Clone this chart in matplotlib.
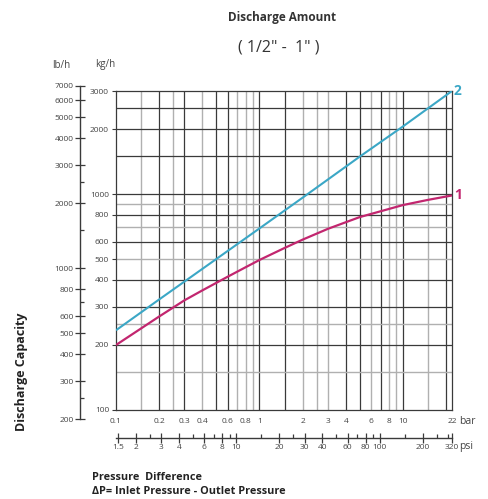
import numpy as np
import matplotlib
matplotlib.use('Agg')
import matplotlib.pyplot as plt
from matplotlib.ticker import FixedLocator, NullFormatter, NullLocator

plt.rcParams['font.family'] = ['Open Sans', 'DejaVu Sans']

# curve data (bar -> kg/h)
p1 = [0.1, 0.2, 0.3, 0.4, 0.6, 0.8, 1, 1.5, 2, 3, 5, 10, 15, 22]
q1 = [200, 271, 322, 358, 414, 458, 495, 563, 615, 690, 782, 889, 940, 985]
p2 = [0.1, 0.2, 0.5, 1, 2, 5, 10, 22]
q2 = [234, 325, 500, 693, 962, 1490, 2055, 3000]

bar_ticks = [0.1, 0.2, 0.3, 0.4, 0.6, 0.8, 1, 2, 3, 4, 6, 8, 10, 22]
bar_labels = ['0.1', '0.2', '0.3', '0.4', '0.6', '0.8', '1', '2', '3', '4', '6', '8', '10', '22']
kg_ticks = [100, 200, 300, 400, 500, 600, 800, 1000, 2000, 3000]
lb_ticks = [200, 300, 400, 500, 600, 800, 1000, 2000, 3000, 4000, 5000, 6000, 7000]
lb_minor = [250, 700, 1500, 2500]
psi_ticks = [1.5, 2, 3, 4, 6, 8, 10, 20, 30, 40, 60, 80, 100, 200, 320]
psi_minor = [2.5, 5, 7, 9, 15, 25, 50, 70, 90, 150, 250, 300]

vgrid_dark = [0.2, 0.3, 0.5, 0.6, 1, 1.5, 4, 5, 7, 10, 20]
vgrid_light = [0.15, 0.25, 0.4, 0.7, 0.8, 0.9, 2, 2.5, 3, 6, 8, 9, 15]
hgrid_dark = [200, 300, 400, 600, 800, 1000, 1500, 2000, 2500]
hgrid_light = [150, 250, 500, 700, 900]

KG2LB = 2.20462
BAR2PSI = 14.5038
cyan = '#3ba7c6'
magenta = '#c2266f'
txt = '#444444'

W, H = 489, 499
fig = plt.figure(figsize=(W / 100, H / 100), dpi=100)
left, bottom = 116 / W, (H - 410) / H
width, height = 336 / W, 319 / H
ax = fig.add_axes([left, bottom, width, height])
ax.set_xscale('log')
ax.set_yscale('log')
ax.set_xlim(0.1, 22)
ax.set_ylim(100, 3000)

for v in vgrid_light:
    ax.axvline(v, color='#b0b0b0', lw=1.0, zorder=1)
for v in vgrid_dark:
    ax.axvline(v, color='#3a3a3a', lw=0.9, zorder=1)
for v in hgrid_light:
    ax.axhline(v, color='#b0b0b0', lw=1.0, zorder=1)
for v in hgrid_dark:
    ax.axhline(v, color='#3a3a3a', lw=0.9, zorder=1)

ax.plot(p1, q1, color=magenta, lw=1.6, zorder=3, solid_capstyle='butt')
ax.plot(p2, q2, color=cyan, lw=1.5, zorder=3, solid_capstyle='butt')
ax.text(p2[-1] * 1.03, q2[-1], '2', color=cyan, fontsize=10, fontweight='bold',
        ha='left', va='center', clip_on=False)
ax.text(p1[-1] * 1.03, q1[-1], '1', color=magenta, fontsize=10, fontweight='bold',
        ha='left', va='center', clip_on=False)

for s in ax.spines.values():
    s.set_color('#3a3a3a')
    s.set_linewidth(0.9)

ax.xaxis.set_major_locator(FixedLocator(bar_ticks))
ax.xaxis.set_minor_locator(NullLocator())
ax.set_xticklabels(bar_labels)
ax.xaxis.set_minor_formatter(NullFormatter())
ax.tick_params(axis='x', length=0, pad=6, labelsize=6, labelcolor=txt)
ax.yaxis.set_major_locator(FixedLocator(kg_ticks))
ax.yaxis.set_minor_locator(NullLocator())
ax.set_yticklabels([str(v) for v in kg_ticks])
ax.tick_params(axis='y', length=3, width=0.8, color='#3a3a3a', pad=2,
               labelsize=6, labelcolor=txt)

# lb/h axis (same log scale, converted from kg/h)
lb_lo, lb_hi = 196, 7150
kg_lo, kg_hi = ax.get_ylim()
dec = np.log10(kg_hi / kg_lo)
b_lb = bottom + height * np.log10(lb_lo / KG2LB / kg_lo) / dec
t_lb = bottom + height * np.log10(lb_hi / KG2LB / kg_lo) / dec
ax_lb = fig.add_axes([80 / W, b_lb, 0.001, t_lb - b_lb])
ax_lb.set_yscale('log')
ax_lb.set_ylim(lb_lo, lb_hi)
ax_lb.patch.set_visible(False)
for k in ['top', 'right', 'bottom']:
    ax_lb.spines[k].set_visible(False)
ax_lb.spines['left'].set_color('#3a3a3a')
ax_lb.spines['left'].set_linewidth(1.0)
ax_lb.spines['left'].set_bounds(200, 7000)
ax_lb.set_xticks([])
ax_lb.yaxis.set_major_locator(FixedLocator(lb_ticks))
ax_lb.yaxis.set_minor_locator(FixedLocator(lb_minor))
ax_lb.set_yticklabels([str(v) for v in lb_ticks])
ax_lb.yaxis.set_minor_formatter(NullFormatter())
ax_lb.tick_params(axis='y', which='major', direction='inout', length=7, width=0.9,
                  color='#3a3a3a', labelsize=6, labelcolor=txt, pad=1)
ax_lb.tick_params(axis='y', which='minor', direction='in', length=3, width=0.9,
                  color='#3a3a3a')

# psi axis
ax_psi = fig.add_axes([left, (H - 438) / H, width, 0.001])
ax_psi.set_xscale('log')
ax_psi.set_xlim(0.1 * BAR2PSI, 320.5)
ax_psi.patch.set_visible(False)
for k in ['top', 'right', 'left']:
    ax_psi.spines[k].set_visible(False)
ax_psi.spines['bottom'].set_color('#3a3a3a')
ax_psi.spines['bottom'].set_linewidth(1.0)
ax_psi.set_yticks([])
ax_psi.xaxis.set_major_locator(FixedLocator(psi_ticks))
ax_psi.xaxis.set_minor_locator(FixedLocator(psi_minor))
ax_psi.set_xticklabels([str(v) for v in psi_ticks])
ax_psi.xaxis.set_minor_formatter(NullFormatter())
ax_psi.tick_params(axis='x', which='major', direction='inout', length=7, width=0.9,
                   color='#3a3a3a', labelsize=6, labelcolor=txt, pad=1)
ax_psi.tick_params(axis='x', which='minor', direction='in', length=3, width=0.9,
                   color='#3a3a3a')

# texts
fig.text(459 / W, 1 - 421 / H, 'bar', fontsize=7.5, color=txt, ha='left', va='center')
fig.text(459 / W, 1 - 446 / H, 'psi', fontsize=7.5, color=txt, ha='left', va='center')
fig.text(282 / W, 1 - 17 / H, 'Discharge Amount', fontsize=8.5, fontweight='bold',
         color='#333333', ha='center', va='center')
fig.text(279 / W, 1 - 47 / H, '( 1/2" -  1" )', fontsize=11.5, color='#333333',
         ha='center', va='center')
fig.text(61 / W, 1 - 65 / H, 'lb/h', fontsize=7, color=txt, ha='center', va='center')
fig.text(105 / W, 1 - 65 / H, 'kg/h', fontsize=7, color=txt, ha='center', va='center')
fig.text(22 / W, 1 - 372 / H, 'Discharge Capacity', fontsize=9, fontweight='bold',
         rotation=90, color='#222222', ha='center', va='center')
fig.text(92 / W, 1 - 478 / H, 'Pressure  Difference', fontsize=7.8, fontweight='bold',
         color='#222222', ha='left', va='center')
fig.text(92 / W, 1 - 492 / H, '\u0394P= Inlet Pressure - Outlet Pressure', fontsize=7.8,
         fontweight='bold', color='#222222', ha='left', va='center')

fig.savefig('out.png', dpi=100)
